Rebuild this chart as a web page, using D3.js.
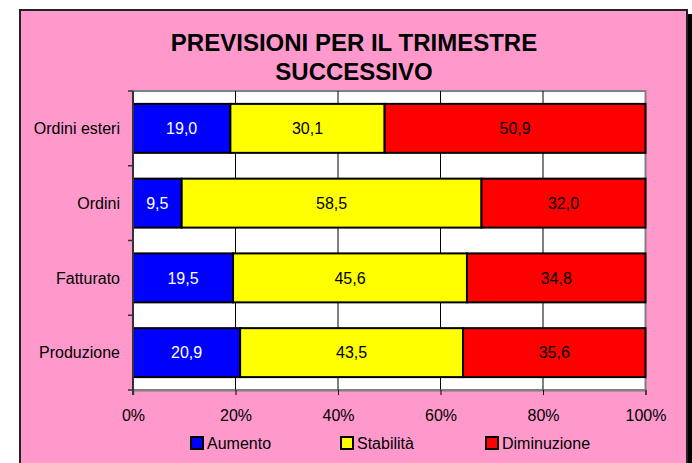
<!DOCTYPE html>
<html><head><meta charset="utf-8">
<script src="https://cdn.jsdelivr.net/npm/d3@7"></script>
<style>
html,body{margin:0;padding:0;background:#fff;}
svg{display:block;font-family:"Liberation Sans",Arial,sans-serif;}
</style></head>
<body><svg id="c" width="692" height="463"></svg>
<script>
const titleLines = ["PREVISIONI PER IL TRIMESTRE", "SUCCESSIVO"];
const categories = ["Ordini esteri", "Ordini", "Fatturato", "Produzione"];
const seriesNames = ["Aumento", "Stabilità", "Diminuzione"];
const aumento = [19.0, 9.5, 19.5, 20.9];
const stabilita = [30.1, 58.5, 45.6, 43.5];
const diminuzione = [50.9, 32.0, 34.8, 35.6];
const tickValues = [0, 0.2, 0.4, 0.6, 0.8, 1];
const colors = ["#0000FF", "#FFFF00", "#FF0000"];
const labelColors = ["#FFFFFF", "#000000", "#000000"];

const svg = d3.select("#c");
// frame + shadow
svg.append("rect").attr("x", 25).attr("y", 14).attr("width", 700).attr("height", 500).attr("fill", "#000");
svg.append("rect").attr("x", 20).attr("y", 10).attr("width", 667).attr("height", 470)
  .attr("fill", "#FF99CC").attr("stroke", "#222").attr("stroke-width", 2);

// title
svg.append("g").selectAll("text").data(titleLines).join("text")
  .attr("x", 354).attr("y", (d, i) => 51 + i * 29)
  .attr("text-anchor", "middle").attr("font-size", 24).attr("font-weight", "bold")
  .attr("fill", "#000").text(d => d);

const L = 133, R = 645.5, T = 91, B = 390;
const x = d3.scaleLinear().domain([0, 1]).range([L, R]);
const y = d3.scaleBand().domain(categories).range([T, B]).paddingInner(0.345).paddingOuter(0.1725);

// plot area
svg.append("rect").attr("x", L).attr("y", T).attr("width", R - L).attr("height", B - T)
  .attr("fill", "#fff").attr("stroke", "#808080").attr("stroke-width", 2);

// gridlines
svg.append("g").selectAll("line").data(tickValues.slice(1, -1)).join("line")
  .attr("x1", d => x(d)).attr("x2", d => x(d)).attr("y1", T).attr("y2", B)
  .attr("stroke", "#000").attr("stroke-width", 1);

// stacked data (normalized to 100%)
const rows = categories.map((c, i) => {
  const vals = [aumento[i], stabilita[i], diminuzione[i]];
  const sum = d3.sum(vals);
  let acc = 0;
  return vals.map((v, k) => { const s = acc; acc += v / sum; return {cat: c, k, v, x0: s, x1: acc}; });
});

const gb = svg.append("g");
rows.flat().forEach(d => {
  gb.append("rect").attr("x", x(d.x0)).attr("y", y(d.cat))
    .attr("width", x(d.x1) - x(d.x0)).attr("height", y.bandwidth())
    .attr("fill", colors[d.k]).attr("stroke", "#000").attr("stroke-width", 2);
});
rows.flat().forEach(d => {
  gb.append("text").attr("x", (x(d.x0) + x(d.x1)) / 2).attr("y", y(d.cat) + y.bandwidth() / 2)
    .attr("dy", "0.36em").attr("text-anchor", "middle").attr("font-size", 16)
    .attr("fill", labelColors[d.k]).text(d3.format(".1f")(d.v).replace(".", ","));
});

// x axis
const xa = svg.append("g").attr("transform", `translate(0,${B})`)
  .call(d3.axisBottom(x).tickValues(tickValues).tickFormat(d3.format(".0%")).tickSize(5).tickPadding(14.5));
xa.select(".domain").attr("stroke", "#808080").attr("stroke-width", 2);
xa.selectAll(".tick line").attr("stroke", "#000");
xa.selectAll("text").attr("font-size", 16).attr("font-family", "Liberation Sans, Arial, sans-serif").attr("fill", "#000");

// y axis line + ticks at band boundaries
svg.append("line").attr("x1", L).attr("x2", L).attr("y1", T).attr("y2", B + 5)
  .attr("stroke", "#333").attr("stroke-width", 2);
const step = y.step();
svg.append("g").selectAll("line").data(d3.range(categories.length + 1)).join("line")
  .attr("x1", L - 5).attr("x2", L).attr("y1", i => T + i * step).attr("y2", i => T + i * step)
  .attr("stroke", "#333").attr("stroke-width", 1.5);
svg.append("g").selectAll("text").data(categories).join("text")
  .attr("x", 120).attr("y", d => y(d) + y.bandwidth() / 2).attr("dy", "0.36em")
  .attr("text-anchor", "end").attr("font-size", 16).attr("fill", "#000").text(d => d);

// legend
const legX = [191, 341, 486];
const lg = svg.append("g").selectAll("g").data(seriesNames).join("g")
  .attr("transform", (d, i) => `translate(${legX[i]},437)`);
lg.append("rect").attr("width", 12).attr("height", 12).attr("fill", (d, i) => colors[i])
  .attr("stroke", "#000").attr("stroke-width", 2);
lg.append("text").attr("x", 16).attr("y", 11.5).attr("font-size", 16).attr("fill", "#000").text(d => d);
</script></body></html>
